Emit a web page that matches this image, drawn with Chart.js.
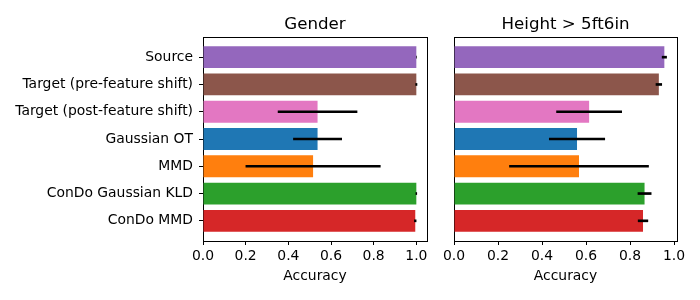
<!DOCTYPE html>
<html>
<head>
<meta charset="utf-8">
<script src="https://cdn.jsdelivr.net/npm/chart.js@4/dist/chart.umd.min.js"></script>
<style>
  body { margin: 0; background: #fff; }
  #wrap { position: relative; width: 700px; height: 300px; }
  canvas { position: absolute; top: 0; }
  #gender { left: 0; }
  #height { left: 440px; }
</style>
</head>
<body>
<div id="wrap">
  <canvas id="gender" width="440" height="300"></canvas>
  <canvas id="height" width="260" height="300"></canvas>
</div>
<script>
// categories, top to bottom
const methods = [
    "Source",
    "Target (pre-feature shift)",
    "Target (post-feature shift)",
    "Gaussian OT",
    "MMD",
    "ConDo Gaussian KLD",
    "ConDo MMD"
];
const barColors = ["#9467bd", "#8c564b", "#e377c2", "#1f77b4", "#ff7f0e", "#2ca02c", "#d62728"];

// mean accuracy and error (half width)
const genderAcc = [1.0, 1.0, 0.537, 0.537, 0.516, 1.0, 0.995];
const genderErr = [0.0, 0.003, 0.185, 0.113, 0.315, 0.002, 0.004];
const heightAcc = [0.956, 0.931, 0.614, 0.559, 0.568, 0.866, 0.859];
const heightErr = [0.010, 0.013, 0.148, 0.126, 0.316, 0.030, 0.022];

const xTicks = [0, 0.2, 0.4, 0.6, 0.8, 1.0];

const FONT = "DejaVu Sans";
Chart.defaults.font.family = FONT;
Chart.defaults.color = "#000";

function makeChart(id, title, acc, err, opts) {
    const ctx = document.getElementById(id).getContext('2d');
    return new Chart(ctx, {
        type: 'bar',
        data: {
            datasets: [{
                // error bars as thin floating bars
                data: acc.map((v, i) => ({ x: [v - err[i], v + err[i]], y: i })),
                backgroundColor: '#000',
                barThickness: 2,
                grouped: false,
                order: 0
            }, {
                data: acc.map((v, i) => ({ x: v, y: i })),
                backgroundColor: barColors,
                barPercentage: 0.8,
                categoryPercentage: 1.0,
                grouped: false,
                order: 1
            }]
        },
        options: {
            indexAxis: 'y',
            responsive: false,
            animation: false,
            devicePixelRatio: 1,
            layout: { padding: 0 },
            plugins: { legend: { display: false }, tooltip: { enabled: false } },
            scales: {
                x: {
                    type: 'linear',
                    position: 'bottom',
                    min: 0,
                    max: opts.xMax,
                    afterBuildTicks: s => { s.ticks = xTicks.map(v => ({ value: v })); },
                    afterFit: s => { s.height = 59; },
                    ticks: {
                        callback: v => v.toFixed(1),
                        font: { size: 13.9 },
                        padding: 3,
                        maxRotation: 0
                    },
                    grid: { drawOnChartArea: false, drawTicks: true, tickLength: 4, color: '#000' },
                    border: { display: true, color: '#000', width: 1 },
                    title: { display: true, text: 'Accuracy', font: { size: 13.9 }, padding: { top: 0, bottom: 15 } }
                },
                xTop: {
                    type: 'linear',
                    position: 'top',
                    min: 0,
                    max: opts.xMax,
                    afterFit: s => { s.height = 37; },
                    ticks: { display: false },
                    grid: { display: false },
                    border: { display: true, color: '#000', width: 1 },
                    title: { display: true, text: title, font: { size: 16.67 }, padding: { top: 15, bottom: 0 } }
                },
                y: {
                    type: 'linear',
                    position: 'left',
                    reverse: true,
                    offset: false,
                    min: -0.74,
                    max: 6.74,
                    afterBuildTicks: s => { s.ticks = methods.map((m, i) => ({ value: i })); },
                    afterFit: s => { s.width = opts.leftWidth; },
                    ticks: {
                        display: opts.showLabels,
                        callback: v => methods[v],
                        font: { size: 13.9 },
                        padding: 6,
                        crossAlign: 'near'
                    },
                    grid: { offset: false, drawOnChartArea: false, drawTicks: opts.showLabels, tickLength: 4, color: '#000' },
                    border: { display: true, color: '#000', width: 1 }
                },
                yRight: {
                    type: 'linear',
                    position: 'right',
                    min: 0,
                    max: 1,
                    afterFit: s => { s.width = opts.rightWidth; },
                    ticks: { display: false },
                    grid: { display: false },
                    border: { display: true, color: '#000', width: 1 }
                }
            }
        }
    });
}

makeChart('gender', 'Gender', genderAcc, genderErr,
    { xMax: 1.05, leftWidth: 203, rightWidth: 13, showLabels: true });
makeChart('height', 'Height > 5ft6in', heightAcc, heightErr,
    { xMax: 1.0135, leftWidth: 13, rightWidth: 23, showLabels: false });
</script>
</body>
</html>
